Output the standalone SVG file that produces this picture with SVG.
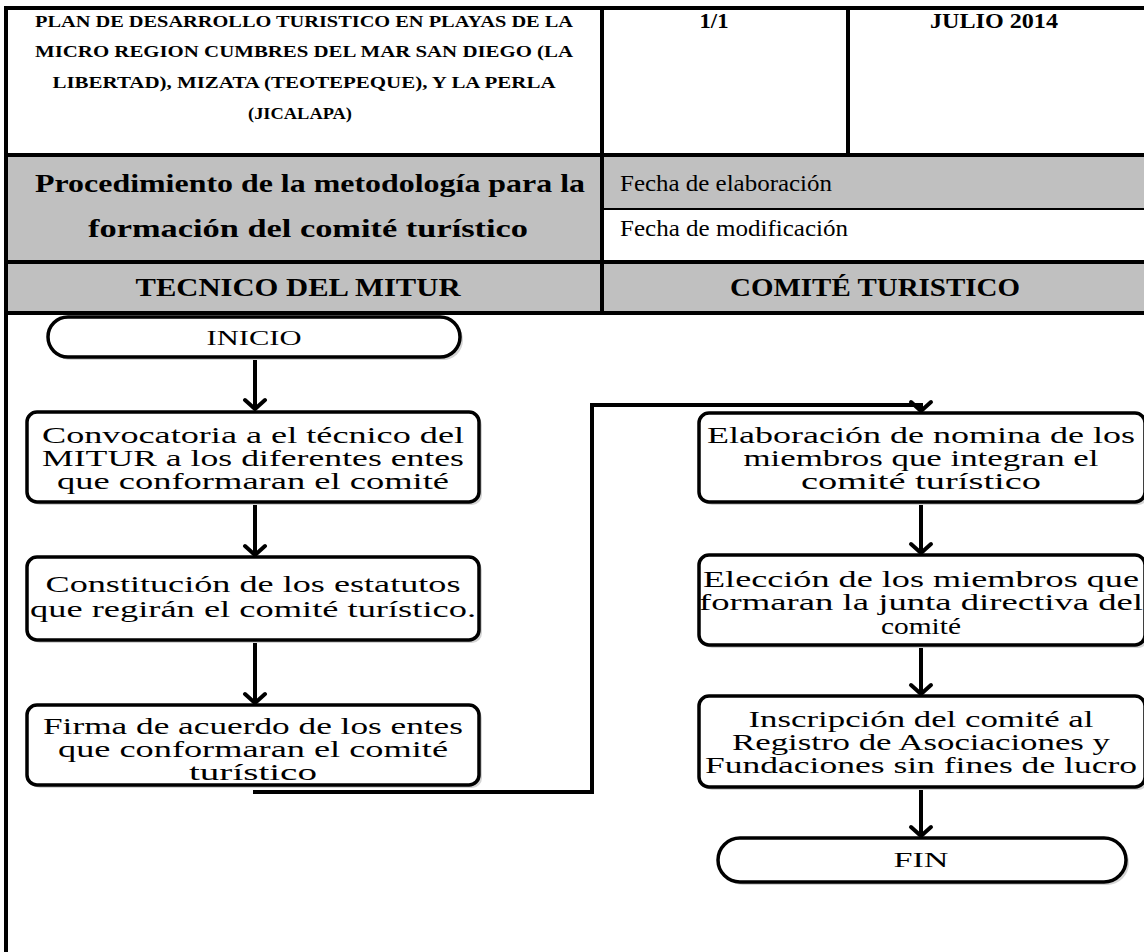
<svg xmlns="http://www.w3.org/2000/svg" width="1144" height="952" viewBox="0 0 1144 952">
<style>
.bg{fill:#ffffff}
.gray{fill:#c0c0c0}
.rule{stroke:#000;stroke-width:4;fill:none}
.thin{stroke:#000;stroke-width:2;fill:none}
.hb{font-family:"Liberation Serif","Times New Roman",serif;font-weight:bold;fill:#000}
.hr{font-family:"Liberation Serif","Times New Roman",serif;fill:#000}
.node{fill:#fff;stroke:#000;stroke-width:3.5}
.shadow{fill:#d4d4d4}
.nt{font-family:"Liberation Serif","Times New Roman",serif;font-size:23px;fill:#000;text-anchor:middle}
.tt{font-family:"Liberation Serif","Times New Roman",serif;font-size:21px;fill:#000;text-anchor:middle}
.conn{stroke:#000;stroke-width:4;fill:none}
</style>
<defs>
<marker id="chev" markerUnits="userSpaceOnUse" markerWidth="30" markerHeight="30" viewBox="-15 -15 30 30" refX="0" refY="0" orient="auto" overflow="visible">
<path d="M-9,-10 L0,0 L-9,10" fill="none" stroke="#000" stroke-width="4" stroke-linecap="round" stroke-linejoin="round"/>
</marker>
</defs>
<rect class="bg" x="0" y="0" width="1144" height="952"/>

<g id="header-table">
<rect class="gray" x="6" y="155" width="1138" height="158"/>
<rect class="bg" x="602" y="209" width="542" height="53"/>
<line class="rule" x1="4" y1="8" x2="1144" y2="8"/>
<line class="rule" x1="6" y1="6" x2="6" y2="952"/>
<line class="rule" x1="602" y1="8" x2="602" y2="313"/>
<line class="rule" x1="848" y1="8" x2="848" y2="155"/>
<line class="rule" x1="6" y1="155" x2="1144" y2="155"/>
<line class="thin" x1="602" y1="209" x2="1144" y2="209"/>
<line class="rule" x1="6" y1="262" x2="1144" y2="262"/>
<line class="rule" x1="6" y1="313" x2="1144" y2="313"/>

<g font-size="17" text-anchor="middle" class="hb">
<text x="304" y="27" textLength="538" lengthAdjust="spacingAndGlyphs">PLAN DE DESARROLLO TURISTICO EN PLAYAS DE LA</text>
<text x="304" y="57" textLength="538" lengthAdjust="spacingAndGlyphs">MICRO REGION CUMBRES DEL MAR SAN DIEGO (LA</text>
<text x="304" y="88" textLength="503" lengthAdjust="spacingAndGlyphs">LIBERTAD), MIZATA (TEOTEPEQUE), Y LA PERLA</text>
<text x="300" y="119" textLength="104" lengthAdjust="spacingAndGlyphs">(JICALAPA)</text>
</g>
<text class="hb" x="714" y="28" font-size="22" text-anchor="middle" textLength="29" lengthAdjust="spacingAndGlyphs">1/1</text>
<text class="hb" x="994" y="28" font-size="22" text-anchor="middle" textLength="128" lengthAdjust="spacingAndGlyphs">JULIO 2014</text>

<text class="hb" x="310" y="192" font-size="25" text-anchor="middle" textLength="550" lengthAdjust="spacingAndGlyphs">Procedimiento de la metodología para la</text>
<text class="hb" x="308" y="237" font-size="25" text-anchor="middle" textLength="440" lengthAdjust="spacingAndGlyphs">formación del comité turístico</text>
<text class="hr" x="620" y="191" font-size="24" textLength="212" lengthAdjust="spacingAndGlyphs">Fecha de elaboración</text>
<text class="hr" x="620" y="236" font-size="24" textLength="228" lengthAdjust="spacingAndGlyphs">Fecha de modificación</text>
<text class="hb" x="298" y="296" font-size="25" text-anchor="middle" textLength="325" lengthAdjust="spacingAndGlyphs">TECNICO DEL MITUR</text>
<text class="hb" x="875" y="296" font-size="25" text-anchor="middle" textLength="290" lengthAdjust="spacingAndGlyphs">COMITÉ TURISTICO</text>
</g>

<g id="connectors">
<line class="conn" x1="255" y1="357" x2="255" y2="409" marker-end="url(#chev)"/>
<line class="conn" x1="255" y1="502" x2="255" y2="555" marker-end="url(#chev)"/>
<line class="conn" x1="255" y1="640" x2="255" y2="703" marker-end="url(#chev)"/>
<path class="conn" d="M253,792 H592 V405 H921 V411" marker-end="url(#chev)"/>
<line class="conn" x1="921" y1="502" x2="921" y2="553" marker-end="url(#chev)"/>
<line class="conn" x1="921" y1="645" x2="921" y2="694" marker-end="url(#chev)"/>
<line class="conn" x1="921" y1="787" x2="921" y2="836" marker-end="url(#chev)"/>
</g>

<g id="inicio">
<rect class="shadow" x="51" y="320" width="412" height="40" rx="20"/>
<rect class="node" x="48" y="317" width="412" height="40" rx="20"/>
<text class="tt" x="254" y="345" textLength="95" lengthAdjust="spacingAndGlyphs">INICIO</text>
</g>

<g id="n1">
<rect class="shadow" x="30" y="415" width="452" height="90" rx="10"/>
<rect class="node" x="27" y="412" width="452" height="90" rx="10"/>
<text class="nt" x="253" y="443" textLength="422" lengthAdjust="spacingAndGlyphs">Convocatoria a el técnico del</text>
<text class="nt" x="253" y="466" textLength="422" lengthAdjust="spacingAndGlyphs">MITUR a los diferentes entes</text>
<text class="nt" x="253" y="489" textLength="392" lengthAdjust="spacingAndGlyphs">que conformaran el comité</text>
</g>

<g id="n2">
<rect class="shadow" x="30" y="560" width="452" height="83" rx="10"/>
<rect class="node" x="27" y="557" width="452" height="83" rx="10"/>
<text class="nt" x="253" y="592" textLength="415" lengthAdjust="spacingAndGlyphs">Constitución de los estatutos</text>
<text class="nt" x="253" y="617" textLength="446" lengthAdjust="spacingAndGlyphs">que regirán el comité turístico.</text>
</g>

<g id="n3">
<rect class="shadow" x="30" y="708" width="452" height="80" rx="10"/>
<rect class="node" x="27" y="705" width="452" height="80" rx="10"/>
<text class="nt" x="253" y="734" textLength="420" lengthAdjust="spacingAndGlyphs">Firma de acuerdo de los entes</text>
<text class="nt" x="253" y="757" textLength="390" lengthAdjust="spacingAndGlyphs">que conformaran el comité</text>
<text class="nt" x="253" y="780" textLength="128" lengthAdjust="spacingAndGlyphs">turístico</text>
</g>

<g id="n4">
<rect class="shadow" x="702" y="416" width="446" height="89" rx="10"/>
<rect class="node" x="699" y="413" width="446" height="89" rx="10"/>
<text class="nt" x="921" y="443" textLength="428" lengthAdjust="spacingAndGlyphs">Elaboración de nomina de los</text>
<text class="nt" x="921" y="466" textLength="355" lengthAdjust="spacingAndGlyphs">miembros que integran el</text>
<text class="nt" x="921" y="489" textLength="240" lengthAdjust="spacingAndGlyphs">comité turístico</text>
</g>

<g id="n5">
<rect class="shadow" x="702" y="558" width="446" height="90" rx="10"/>
<rect class="node" x="699" y="555" width="446" height="90" rx="10"/>
<text class="nt" x="921" y="587" textLength="436" lengthAdjust="spacingAndGlyphs">Elección de los miembros que</text>
<text class="nt" x="921" y="610" textLength="444" lengthAdjust="spacingAndGlyphs">formaran la junta directiva del</text>
<text class="nt" x="921" y="634" textLength="80" lengthAdjust="spacingAndGlyphs">comité</text>
</g>

<g id="n6">
<rect class="shadow" x="702" y="699" width="446" height="91" rx="10"/>
<rect class="node" x="699" y="696" width="446" height="91" rx="10"/>
<text class="nt" x="921" y="727" textLength="345" lengthAdjust="spacingAndGlyphs">Inscripción del comité al</text>
<text class="nt" x="921" y="750" textLength="378" lengthAdjust="spacingAndGlyphs">Registro de Asociaciones y</text>
<text class="nt" x="921" y="773" textLength="432" lengthAdjust="spacingAndGlyphs">Fundaciones sin fines de lucro</text>
</g>

<g id="fin">
<rect class="shadow" x="721" y="841" width="408" height="44" rx="22"/>
<rect class="node" x="718" y="838" width="408" height="44" rx="22"/>
<text class="tt" x="921" y="867" textLength="55" lengthAdjust="spacingAndGlyphs">FIN</text>
</g>
</svg>
